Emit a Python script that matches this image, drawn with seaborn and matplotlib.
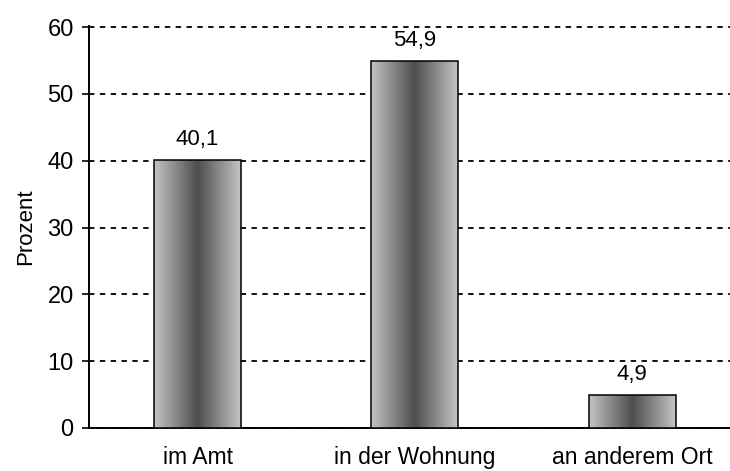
import numpy as np
import pandas as pd
import matplotlib
matplotlib.use('Agg')
import matplotlib.pyplot as plt
import seaborn as sns
from matplotlib.colors import LinearSegmentedColormap

categories = ['im Amt', 'in der Wohnung', 'an anderem Ort']
values = [40.1, 54.9, 4.9]
labels = ['40,1', '54,9', '4,9']

df = pd.DataFrame({'Ort': categories, 'Prozent': values})

sns.set_style('white')
plt.rcParams['font.family'] = ['Liberation Sans', 'DejaVu Sans']
plt.rcParams['font.size'] = 16
plt.rcParams['text.color'] = 'black'
plt.rcParams['axes.labelcolor'] = 'black'
plt.rcParams['xtick.color'] = 'black'
plt.rcParams['ytick.color'] = 'black'

fig = plt.figure(figsize=(7.3, 4.71), dpi=100)
# y range a bit above 60 so the top grid line is not clipped in half
ytop = 60.2
px_per_unit = (428 - 27) / 60
ax = fig.add_axes([89 / 730, 1 - 428 / 471, 1 - 89 / 730, ytop * px_per_unit / 471])

sns.barplot(data=df, x='Ort', y='Prozent', width=0.4, color='#999999',
            edgecolor='black', linewidth=1.1, ax=ax, zorder=3)

# horizontal gradient: light at edges, dark in the middle
grad_cmap = LinearSegmentedColormap.from_list('g', ['#c4c4c4', '#4e4e4e', '#c4c4c4'])
grad = np.linspace(0, 1, 256).reshape(1, -1)
for patch in ax.patches:
    x0, y0 = patch.get_x(), patch.get_y()
    w, h = patch.get_width(), patch.get_height()
    im = ax.imshow(grad, cmap=grad_cmap, aspect='auto', extent=[x0, x0 + w, y0, y0 + h],
                   zorder=3.5, interpolation='bicubic')
    im.set_clip_path(patch)
    patch.set_facecolor('none')
    patch.set_zorder(4)

for i, (v, lab) in enumerate(zip(values, labels)):
    ax.text(i, v + 2.25, lab, ha='center', va='baseline', fontsize=16, color='black')

ax.set_xlim(-0.5, 2.45)
ax.set_ylim(0, ytop)
ax.set_yticks(range(0, 61, 10))
ax.yaxis.grid(True, linestyle=(0, (3, 3)), color='black', linewidth=1.3, zorder=1)
ax.set_axisbelow(True)

ax.set_xticks([0, 1, 2])
ax.set_xticklabels(categories, fontsize=16.5)
ax.set_xticks([-0.5, 0.5, 1.5], minor=True)
ax.tick_params(axis='x', which='major', length=0, pad=13)
ax.tick_params(axis='x', which='minor', length=5, width=1.2, direction='out', color='black')
ax.tick_params(axis='y', length=5, width=1.2, direction='out', color='black', left=True,
               labelsize=17, pad=6)

for side in ['top', 'right']:
    ax.spines[side].set_visible(False)
for side in ['left', 'bottom']:
    ax.spines[side].set_color('black')
    ax.spines[side].set_linewidth(1.4)

ax.set_xlabel('')
ax.set_ylabel('Prozent', fontsize=16, labelpad=8)

fig.savefig('out.png', dpi=100)
